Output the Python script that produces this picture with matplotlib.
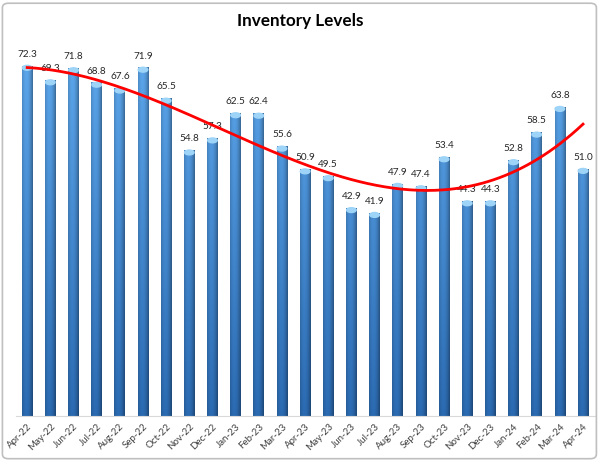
import numpy as np
import matplotlib.pyplot as plt
from matplotlib.patches import FancyBboxPatch, Ellipse

months = ['Apr-22', 'May-22', 'Jun-22', 'Jul-22', 'Aug-22', 'Sep-22', 'Oct-22',
          'Nov-22', 'Dec-22', 'Jan-23', 'Feb-23', 'Mar-23', 'Apr-23', 'May-23',
          'Jun-23', 'Jul-23', 'Aug-23', 'Sep-23', 'Oct-23', 'Nov-23', 'Dec-23',
          'Jan-24', 'Feb-24', 'Mar-24', 'Apr-24']
values = [72.3, 69.3, 71.8, 68.8, 67.6, 71.9, 65.5, 54.8, 57.3, 62.5, 62.4, 55.6,
          50.9, 49.5, 42.9, 41.9, 47.9, 47.4, 53.4, 44.3, 44.3, 52.8, 58.5, 63.8, 51.0]

plt.rcParams['font.family'] = ['Lato', 'DejaVu Sans']

fig = plt.figure(figsize=(6, 4.61), dpi=100)
ax = fig.add_axes([0.026, 0.097, 0.965, 0.84])

x = np.arange(len(values))
w = 0.46

# shaded bar image: light top -> dark bottom, darker at the sides
top = np.array([0.36, 0.65, 0.92])
bot = np.array([0.17, 0.42, 0.70])
h = np.linspace(0, 1, 32)
side = 1 - 0.35 * (np.abs(h - 0.4) / 0.6) ** 2

bars = ax.bar(x, values, width=w, color='#2f78c4', zorder=2)
for xi, v in zip(x, values):
    t = np.linspace(0, 1, 64)[:, None, None] * (v / 72.3)
    col = top * t + bot * (1 - t)
    img = np.clip(col * side[None, :, None], 0, 1)
    ax.imshow(img, extent=(xi - w / 2, xi + w / 2, 0, v), origin='lower',
              aspect='auto', zorder=2.1, interpolation='bilinear')
    ax.add_patch(Ellipse((xi, v - 0.3), w * 0.9, 1.0, color='#9ed4f7', zorder=2.2))
    ax.text(xi, v + 1.6, f'{v:.1f}', ha='center', va='bottom', fontsize=7.2,
            color='#262626', zorder=3)

# polynomial trend line
coef = np.polyfit(x, values, 3)
xs = np.linspace(0, len(values) - 1, 200)
ax.plot(xs, np.polyval(coef, xs), color='#ff0000', lw=2, zorder=4)

ax.set_xlim(-0.5, len(values) - 0.5)
ax.set_ylim(0, 80)
ax.set_xticks(x)
ax.set_xticklabels(months, rotation=45, ha='right', rotation_mode='anchor',
                   fontsize=7, color='#404040')
ax.tick_params(axis='x', length=0, pad=4)
ax.set_yticks([])
for s in ['top', 'left', 'right']:
    ax.spines[s].set_visible(False)
ax.spines['bottom'].set_color('#d9d9d9')

fig.text(0.5, 0.955, 'Inventory Levels', ha='center', va='center',
         fontsize=12.3, fontweight='bold', color='#000000')

border = FancyBboxPatch((0.004, 0.005), 0.99, 0.988, boxstyle='round,pad=0,rounding_size=0.01',
                        transform=fig.transFigure, fill=False, ec='#bfbfbf', lw=1.2)
fig.patches.append(border)

fig.savefig('out.png', dpi=100)
